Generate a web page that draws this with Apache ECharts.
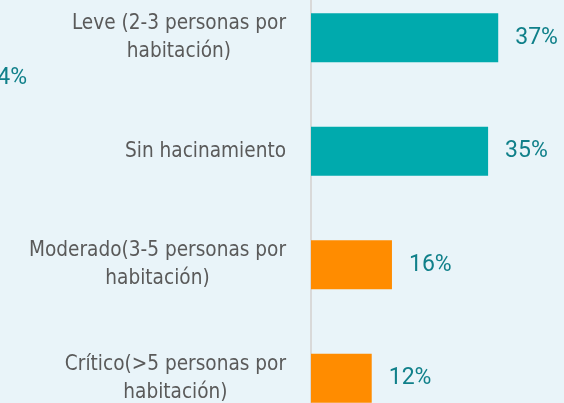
<!DOCTYPE html>
<html>
<head>
<meta charset="utf-8">
<script src="https://cdn.jsdelivr.net/npm/echarts@6/dist/echarts.min.js"></script>
<style>
  html, body { margin: 0; padding: 0; background: #e9f4f9; overflow: hidden; }
  #chart { width: 564px; height: 454px; margin-top: -19px; }
</style>
</head>
<body>
<div id="chart"></div>
<script>
// datos del gráfico
var categorias = [
  'Leve (2-3 personas por\nhabitación)',
  'Sin hacinamiento',
  'Moderado(3-5 personas por\nhabitación)',
  'Crítico(>5 personas por\nhabitación)'
];
var valores = [37, 35, 16, 12];
var colores = ['#00aaad', '#00aaad', '#ff8c00', '#ff8c00'];

var myChart = echarts.init(document.getElementById('chart'));

var option = {
  backgroundColor: '#e9f4f9',
  animation: false,
  grid: {
    left: 311,
    width: 256,
    top: 0,
    bottom: 0,
    containLabel: false
  },
  xAxis: {
    type: 'value',
    min: 0,
    max: 50,
    show: false
  },
  yAxis: {
    type: 'category',
    inverse: true,
    data: categorias,
    axisLine: { show: true, lineStyle: { color: '#d9d9d9', width: 2 } },
    axisTick: { show: false },
    axisLabel: {
      margin: 25,
      formatter: function (v) {
        return v.split('\n').map(function (s) { return '{a|' + s + '}'; }).join('\n');
      },
      rich: {
        a: {
          align: 'center',
          fontFamily: '"Liberation Sans Narrow", "DejaVu Sans Condensed", sans-serif',
          fontSize: 20.6,
          lineHeight: 28,
          color: '#5a5a5a'
        }
      }
    }
  },
  series: [
    {
      type: 'bar',
      barWidth: 49,
      data: valores.map(function (v, i) {
        return { value: v, itemStyle: { color: colores[i] } };
      }),
      label: {
        show: true,
        position: 'right',
        distance: 17,
        formatter: '{c}%',
        fontFamily: 'Roboto, sans-serif',
        fontSize: 23,
        color: '#10808a'
      }
    }
  ],
  graphic: [
    {
      type: 'text',
      style: {
        x: 27, y: 97,
        text: '4%',
        align: 'right',
        verticalAlign: 'middle',
        fontFamily: 'Roboto, sans-serif',
        fontSize: 23,
        fill: '#10808a'
      }
    }
  ]
};

myChart.setOption(option);
</script>
</body>
</html>
